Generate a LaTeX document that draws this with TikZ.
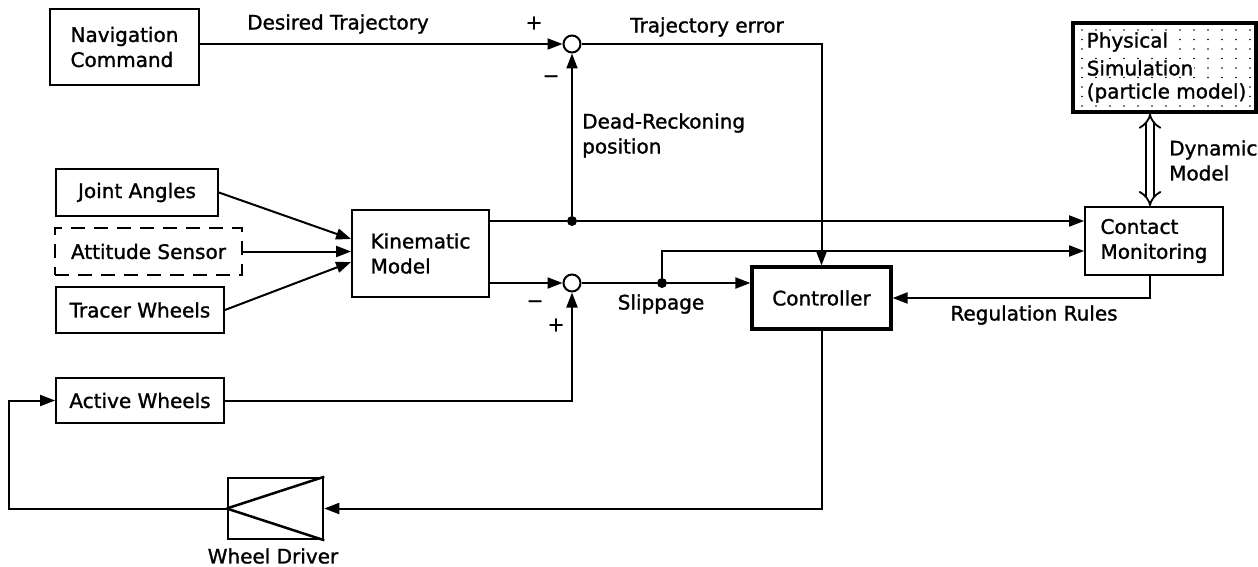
\documentclass[tikz,border=0pt]{standalone}
\usepackage{fontspec}
\setmainfont{DejaVu Sans}[FakeBold=1.3]
\usetikzlibrary{arrows.meta,calc}
\begin{document}
\begin{tikzpicture}[x=1pt,y=-1pt,
  every node/.style={font=\fontsize{20}{25}\selectfont, inner sep=0pt},
  blk/.style={draw, line width=1.8pt, rectangle},
  thickblk/.style={draw, line width=3.2pt, rectangle},
  dashblk/.style={draw, line width=2pt, rectangle, dash pattern=on 14pt off 9pt},
  sumj/.style={draw, circle, line width=2pt, minimum size=17pt, fill=white},
  junc/.style={fill, circle, minimum size=10pt},
  ln/.style={line width=2pt},
  tip/.style={-{Triangle[length=15pt,width=11pt]}},
  lbl/.style={align=left}
]
\useasboundingbox (0,0) rectangle (1258,567);

% blocks
\node[blk, minimum width=149pt, minimum height=76pt, align=left] (nav) at (124.5,47) {Navigation\\Command};
\node[blk, minimum width=162pt, minimum height=47pt] (joint) at (137,192.5) {Joint Angles};
\node[dashblk, minimum width=187pt, minimum height=47pt] (att) at (148.5,251.5) {Attitude Sensor};
\node[blk, minimum width=168pt, minimum height=46pt] (tracer) at (140,310) {Tracer Wheels};
\node[blk, minimum width=137pt, minimum height=87pt, align=left] (kin) at (420.5,253.5) {Kinematic\\Model};
\node[blk, minimum width=168pt, minimum height=45pt] (active) at (140,400.5) {Active Wheels};
\node[draw, line width=2.5pt, minimum width=95pt, minimum height=61pt] (wd) at (275.5,508.5) {};
\node[thickblk, minimum width=139pt, minimum height=62pt] (ctrl) at (821.5,298) {Controller};
\node[blk, minimum width=138pt, minimum height=68pt, align=left] (cm) at (1154,241) {Contact\\Monitoring};
\node[thickblk, minimum width=183pt, minimum height=89pt] (ps) at (1164.5,67.5) {};

% dotted texture of the simulation box
\foreach \i in {0,...,12}{
  \foreach \j in {0,...,8}{
    \fill (1082+\i*14, 30+\j*9.5) circle (0.9pt);
  }
}
\node[fill=white, anchor=west, inner sep=0.5pt] (psa) at (1086,42) {Physical};
\node[fill=white, anchor=west, inner sep=0.5pt] (psb) at (1086,68) {Simulation};
\node[fill=white, anchor=west, inner sep=0.5pt] (psc) at (1086,93) {(particle model)};

% summing junctions and branch points
\node[sumj] (s1) at (572,44) {};
\node[sumj] (s2) at (572,283) {};
\node[junc] (d1) at (572,221) {};
\node[junc] (d2) at (662,283) {};

% wheel driver symbol
\draw[line width=2.5pt] (wd.west) -- (wd.north east);
\draw[line width=2.5pt] (wd.west) -- (wd.south east);

% connectors
\draw[ln,tip] (s1 -| nav.east) -- (s1.west);
\draw[ln,tip] (s1.east) -| (ctrl.north);
\draw[ln,tip] (joint.east) -- ([yshift=14.5pt]kin.west);
\draw[ln,tip] (att.east) -- (att.east -| kin.west);
\draw[ln,tip] (tracer.east) -- ([yshift=-8.5pt]kin.west);
\draw[ln] (d1 -| kin.east) -- (d1);
\draw[ln,tip] (d1) -- (d1 -| cm.west);
\draw[ln,tip] (d1) -- (s1.south);
\draw[ln,tip] (s2 -| kin.east) -- (s2.west);
\draw[ln] (s2.east) -- (d2);
\draw[ln,tip] (d2) -- (d2 -| ctrl.west);
\coordinate (cmin) at ([yshift=-10pt]cm.west);
\draw[ln,tip] (d2) |- (cmin);
\draw[ln,tip] ([xshift=-4pt]cm.south) |- (ctrl.east);
\draw[ln,tip] (ctrl.south) |- (wd.east);
\coordinate (lb) at (9,508.5);
\coordinate (lt) at (9,400.5);
\draw[ln,tip] (wd.west) -- (lb) -- (lt) -- (active.west);
\draw[ln,tip] (active.east) -| (s2.south);
\coordinate (dmx) at (1150,0);
\draw[line width=1.8pt, double distance=6pt, {Implies}-{Implies}] (ps.south -| dmx) -- (cm.north -| dmx);

% labels
\node (lDT) at (338,24) {Desired Trajectory};
\node (lp1) at (534,23) {+};
\node (lm1) at (551,79) {−};
\node (lTE) at (707,27) {Trajectory error};
\node[lbl, anchor=west] (lDR) at (582,135.5) {Dead-Reckoning\\position};
\node (lm2) at (535,304) {−};
\node (lp2) at (556,325) {+};
\node (lSL) at (661,304) {Slippage};
\node (lRR) at (1034,315) {Regulation Rules};
\node[lbl, anchor=west] (lDM) at (1169,160.5) {Dynamic\\Model};
\node (lWD) at (273,556) {Wheel Driver};
\end{tikzpicture}
\end{document}
